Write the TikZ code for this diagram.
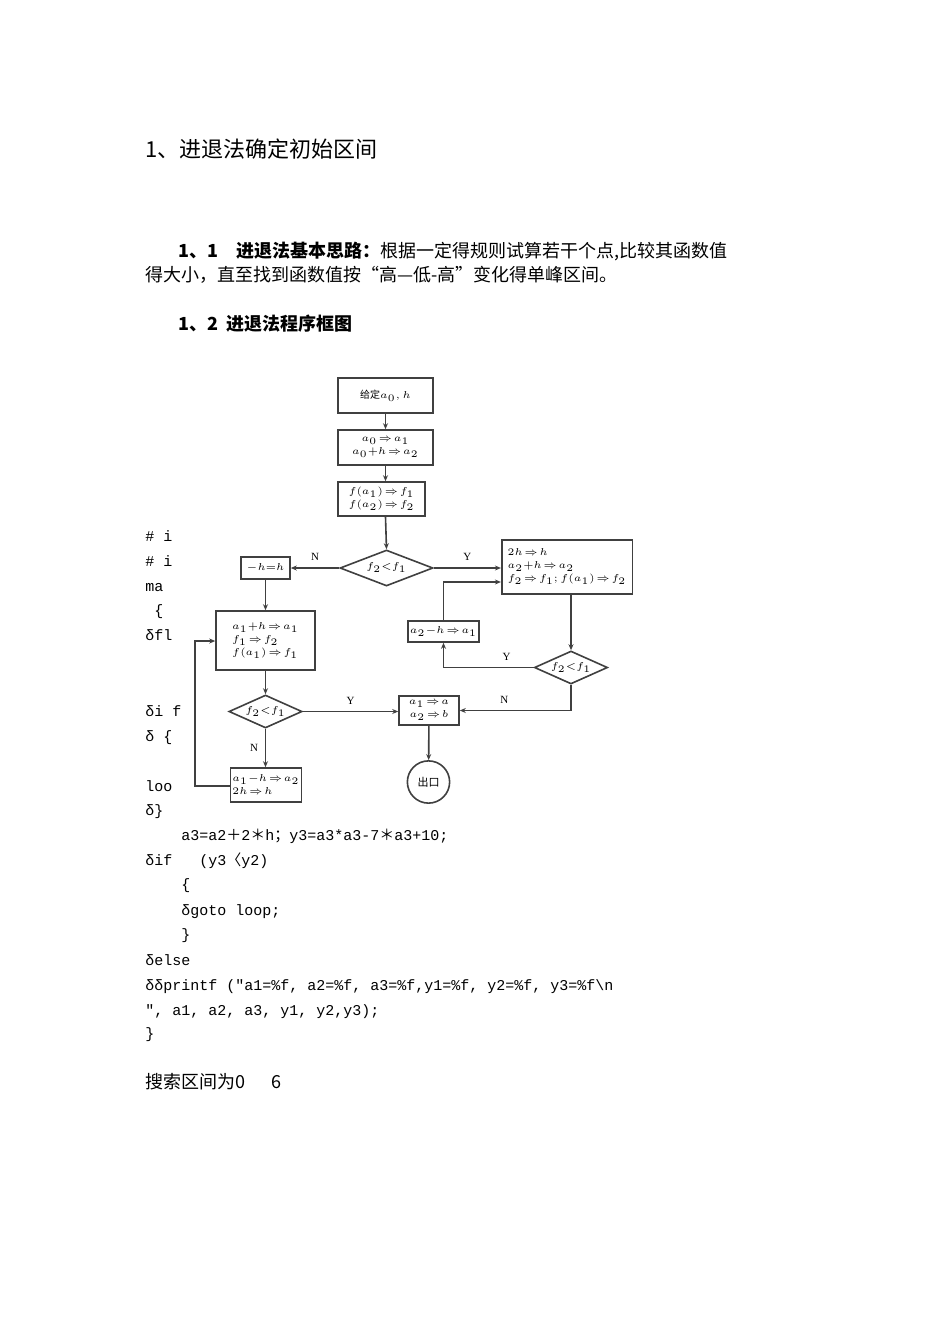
\documentclass[tikz,border=0pt]{standalone}
\usepackage{fontspec}
\setmainfont{Liberation Serif}
\newfontfamily\cjk{Noto Sans CJK SC}
\newfontfamily\mono{Liberation Mono}
\usetikzlibrary{shapes.geometric,arrows.meta}
\newcommand{\RA}{\!\Rightarrow\!}
\begin{document}
\begin{tikzpicture}[x=0.5pt,y=-0.5pt,
 fbox/.style={draw=black!75,thick,minimum width=#1*0.5pt,align=center,font=\fontsize{5}{6.5}\selectfont,inner sep=1pt},
 dia/.style={draw=black!75,thick,diamond,aspect=2.6,inner sep=0.5pt,font=\fontsize{5}{6.5}\selectfont},
 ar/.style={draw=black!75,thick,-{Stealth[length=3pt,width=2.5pt]}},
 lab/.style={font=\fontsize{5.5}{7}\selectfont},
 txt/.style={anchor=base west,inner sep=0pt,font=\cjk\fontsize{9}{11}\selectfont},
 code/.style={anchor=base west,inner sep=0pt,font=\mono\fontsize{7.5}{9}\selectfont}]
\useasboundingbox (0,0) rectangle (950,1344);
\fill[white] (0,0) rectangle (950,1344);
% texts
\node[txt,font=\cjk\fontsize{11}{13}\selectfont] (t1) at (145,157) {1、进退法确定初始区间};
\node[txt] (t2) at (178,257) {\textbf{1、1\quad 进退法基本思路：}根据一定得规则试算若干个点,比较其函数值};
\node[txt] (t3) at (145,281) {得大小，直至找到函数值按“高—低-高”变化得单峰区间。};
\node[txt] (t4) at (178,330) {\textbf{1、2\ \ 进退法程序框图}};
% left code fragments
\node[code] (c1) at (145,541) {\# i};
\node[code] (c2) at (145,566) {\# i};
\node[code] (c3) at (145,591) {ma};
\node[code] (c4) at (145,615) {~\{};
\node[code] (c5) at (145,640) {δfl};
\node[code] (c6) at (145,716) {δi f};
\node[code] (c7) at (145,741) {δ \{};
\node[code] (c8) at (145,791) {loo};
\node[code] (c9) at (145,815) {δ\}};
\node[code] (d1) at (145,840) {~~~~a3=a2{\cjk ＋}2{\cjk ＊}h{\cjk ；}y3=a3*a3-7{\cjk ＊}a3+10;};
\node[code] (d2) at (145,865) {δif~~ (y3{\cjk 〈}y2)};
\node[code] (d3) at (145,889) {~~~~\{};
\node[code] (d4) at (145,915) {~~~~δgoto loop;};
\node[code] (d5) at (145,939) {~~~~\}};
\node[code] (d6) at (145,965) {δelse};
\node[code] (d7) at (145,990) {δδprintf ("a1=\%f, a2=\%f, a3=\%f,y1=\%f, y2=\%f, y3=\%f\textbackslash n};
\node[code] (d8) at (145,1015) {", a1, a2, a3, y1, y2,y3);};
\node[code] (d9) at (145,1038) {\}};
\node[txt] (e1) at (145,1088) {搜索区间为0\quad\ \ 6};
% flowchart
\node[fbox=95,minimum height=17.5pt] (b1) at (385.5,395.5) {{\cjk 给定}$a_0,h$};
\node[fbox=95,minimum height=17.5pt] (b2) at (385.5,447.5) {$a_0\RA a_1$\\$a_0{+}h\RA a_2$};
\node[fbox=87,minimum height=17pt] (b3) at (381.5,499) {$f(a_1)\RA f_1$\\$f(a_2)\RA f_2$};
\node[dia,minimum width=46.5pt,minimum height=18pt] (dd1) at (386.5,568) {$f_2{<}f_1$};
\node[fbox=49,minimum height=11pt] (bh) at (265.5,568) {$-h{=}h$};
\node[fbox=110,minimum height=27pt,align=left,inner xsep=3pt] (br) at (567,567) {$2h\RA h$\\$a_2{+}h\RA a_2$\\$f_2\RA f_1;f(a_1)\RA f_2$};
\node[fbox=99,minimum height=29.5pt,align=left] (bl) at (265.5,640.5) {$a_1{+}h\RA a_1$\\$f_1\RA f_2$\\$f(a_1)\RA f_1$};
\node[fbox=61,minimum height=10.5pt] (bm) at (443.5,631.5) {$a_2{-}h\RA a_1$};
\node[dia,minimum width=35pt,minimum height=16.5pt] (dd2) at (571,667.5) {$f_2{<}f_1$};
\node[dia,minimum width=30.5pt,minimum height=16.5pt] (dd3) at (265.5,711.5) {$f_2{<}f_1$};
\node[fbox=60,minimum height=14.5pt] (ba) at (429,710.5) {$a_1\RA a$\\$a_2\RA b$};
\node[draw=black!75,thick,circle,minimum size=21pt,font=\cjk\fontsize{5.5}{7}\selectfont] (ex) at (428.5,782) {出口};
\node[fbox=66,minimum height=17pt,align=left] (bb) at (266,785) {$a_1{-}h\RA a_2$\\$2h\RA h$};
\draw[ar] (b1) -- (b2);
\draw[ar] (b2.south) -- (b2.south|-b3.north);
\draw[ar] (b2.south|-b3.south) -- (dd1.north);
\draw[ar] (dd1.west) -- node[lab,above]{N} (bh);
\draw[ar] (dd1.east) -- node[lab,above]{Y} (br.west|-dd1);
\draw[ar] (br.south-|dd2) -- (dd2.north);
\draw[ar] (dd2.west) -- node[lab,above,pos=0.3]{Y} (bm.south|-dd2) -- (bm.south);
\coordinate (k1) at (443.5,582);
\draw[ar] (bm.north) -- (k1) -- (br.west|-k1);
\coordinate (k2) at (571,710.5);
\draw[ar] (dd2.south) -- (k2) -- node[lab,above,pos=0.6]{N} (ba.east);
\draw[ar] (bh) -- (bl);
\draw[ar] (bl) -- (dd3);
\draw[ar] (dd3.east) -- node[lab,above]{Y} (ba.west|-dd3);
\draw[ar] (dd3.south) -- node[lab,left]{N} (dd3.south|-bb.north);
\coordinate (k3) at (195,786);
\coordinate (k4) at (195,641);
\draw[ar] (bb.west|-k3) -- (k3) -- (k4) -- (bl.west|-k4);
\draw[ar] (ba) -- (ex);
\end{tikzpicture}
\end{document}
